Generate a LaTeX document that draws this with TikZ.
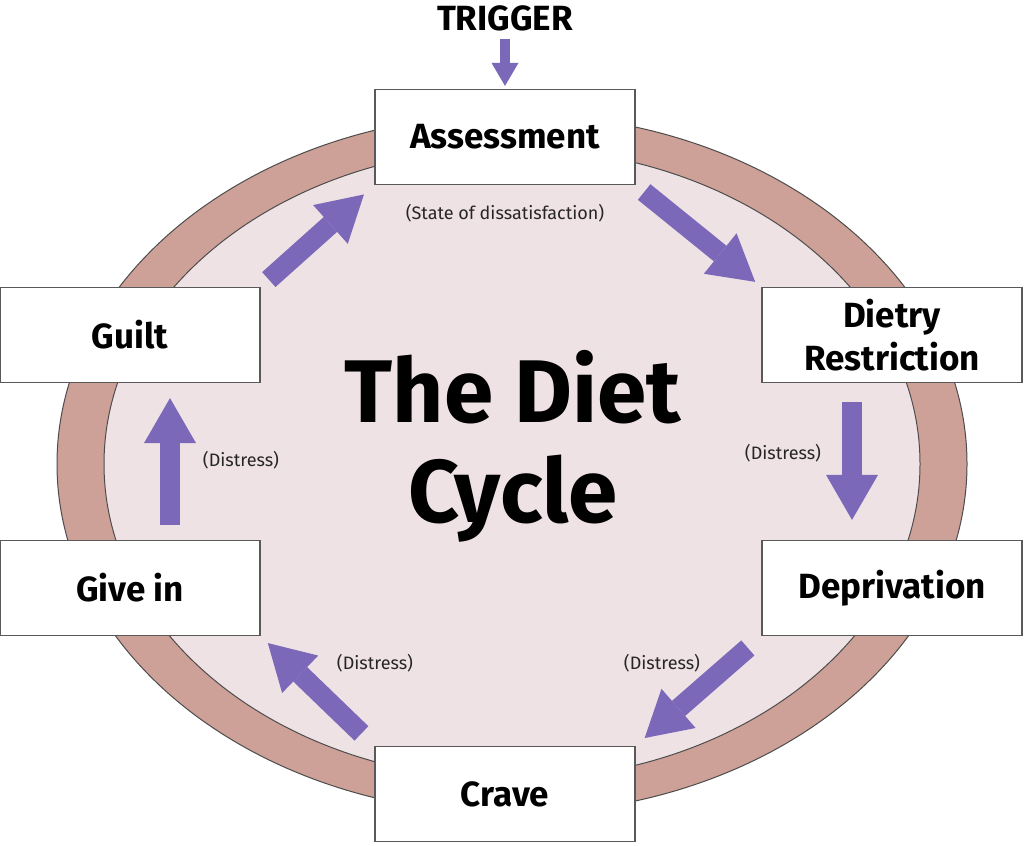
\documentclass[tikz,border=0pt]{standalone}
\usepackage{fontspec}
\setmainfont{Fira Sans}
\usepackage{tikz}
\usetikzlibrary{arrows.meta,positioning}
\definecolor{ringrose}{RGB}{205,161,151}
\definecolor{innerpink}{RGB}{239,226,229}
\definecolor{arrowpurple}{RGB}{123,104,184}
\tikzset{
    %Define style for boxes
    stage/.style={
           rectangle,
           draw=black!65, line width=1.2pt,
           fill=white,
           minimum width=260pt,
           minimum height=95pt,
           font=\fontsize{35}{43}\selectfont\bfseries,
           align=center},
    note/.style={
           font=\fontsize{18}{21}\selectfont,
           text=black!85},
    % Define arrow style
    pil/.style={
           -{Triangle[length=45pt,width=52pt,line width=0pt]},
           line width=20pt,
           draw=arrowpurple},
    smallpil/.style={
           -{Triangle[length=23pt,width=27pt,line width=0pt]},
           line width=10pt,
           draw=arrowpurple}
}
\begin{document}
\begin{tikzpicture}[x=1pt,y=-1pt]
\useasboundingbox (0,0) rectangle (1024,845);
 %ring
\filldraw[fill=ringrose, draw=black!70, line width=1pt] (512,464) ellipse [x radius=455, y radius=350];
\filldraw[fill=innerpink, draw=black!70, line width=1pt] (512,464) ellipse [x radius=408, y radius=316];
 %nodes
\node[stage] (asm) at (505,137) {Assessment};
\node[stage] (dr) at (892,335) {Dietry\\Restriction};
\node[stage] (dp) at (892,588) {Deprivation};
\node[stage] (cr) at (505,794) {Crave};
\node[stage] (gi) at (130,588) {Give in};
\node[stage] (gu) at (130,335) {Guilt};
\node[font=\fontsize{35}{40}\selectfont\bfseries] (trig) at (505,18) {TRIGGER};
\node[font=\fontsize{89}{100}\selectfont\bfseries, align=center] (title) at (513,446) {The Diet\\Cycle};
 %labels
\node[note, below=16pt of asm] (dis) {(State of dissatisfaction)};
\node[note] (d1) at (783,453) {(Distress)};
\node[note] (d2) at (662,663) {(Distress)};
\node[note] (d3) at (375,663) {(Distress)};
\node[note] (d4) at (241,460) {(Distress)};
 %arrows
\draw[smallpil, shorten <=5pt, shorten >=3pt] (trig.south) -- (asm.north);
\draw[pil, shorten <=11pt, shorten >=8pt] (asm.south east) -- (dr.north west);
\draw[pil, shorten <=19pt, shorten >=20pt] ([xshift=-40pt]dr.south) -- ([xshift=-40pt]dp.north);
\draw[pil, shorten <=18pt, shorten >=12pt] (dp.south west) -- (cr.north east);
\draw[pil, shorten <=18pt, shorten >=10pt] (cr.north west) -- (gi.south east);
\draw[pil, shorten <=15pt, shorten >=15pt] ([xshift=40pt]gi.north) -- ([xshift=40pt]gu.south);
\draw[pil, shorten <=11pt, shorten >=14pt] (gu.north east) -- (asm.south west);
\end{tikzpicture}
\end{document}
